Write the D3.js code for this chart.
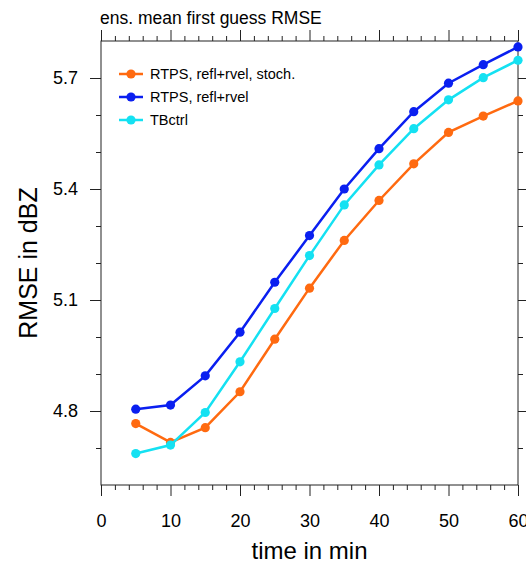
<!DOCTYPE html>
<html>
<head>
<meta charset="utf-8">
<script src="https://cdn.jsdelivr.net/npm/d3@7"></script>
<style>
  body { margin: 0; background: #fff; }
  svg text { font-family: "Liberation Sans", Arial, Helvetica, sans-serif; fill: #000; }
</style>
</head>
<body>
<div id="chart"></div>
<script>
// data
var times = [5, 10, 15, 20, 25, 30, 35, 40, 45, 50, 55, 60];
var stochRmse = [4.766, 4.715, 4.755, 4.852, 4.994, 5.132, 5.261, 5.369, 5.468, 5.553, 5.597, 5.638];
var rtpsRmse  = [4.805, 4.816, 4.895, 5.013, 5.148, 5.274, 5.400, 5.509, 5.609, 5.686, 5.736, 5.784];
var ctrlRmse  = [4.685, 4.708, 4.796, 4.933, 5.077, 5.220, 5.357, 5.465, 5.563, 5.641, 5.701, 5.748];
var seriesNames = ["RTPS, refl+rvel, stoch.", "RTPS, refl+rvel", "TBctrl"];
var xTickLabels = [0, 10, 20, 30, 40, 50, 60];
var yTickLabels = [4.8, 5.1, 5.4, 5.7];

var colors = ["#ff6a10", "#0a1ff0", "#14e1f2"];
var series = [stochRmse, rtpsRmse, ctrlRmse];

var W = 526, H = 566;
var margin = { top: 41, right: 8, bottom: 81, left: 101 };
var width = 518 - margin.left,
    height = 485 - margin.top;

var svg = d3.select("#chart")
    .append("svg")
    .attr("width", W)
    .attr("height", H);

var g = svg.append("g")
    .attr("transform", "translate(" + margin.left + "," + margin.top + ")");

var x = d3.scaleLinear().domain([0, 60]).range([0, width]);
var y = d3.scaleLinear().domain([4.6, 5.8]).range([height, 0]);

var xMinor = d3.range(0, 61, 2).filter(d => d % 10 !== 0);
var yMinor = d3.range(4.7, 5.8, 0.1).filter(d => yTickLabels.every(t => Math.abs(t - d) > 1e-6));

function styleAxis(sel) {
    sel.select(".domain").remove();
    sel.selectAll("line").attr("stroke", "#222").attr("stroke-width", 1);
    sel.selectAll("text").attr("font-size", "18px").attr("fill", "#000");
}

// major ticks with labels
g.append("g")
    .attr("transform", "translate(0," + height + ")")
    .call(d3.axisBottom(x).tickValues(xTickLabels).tickSize(11).tickPadding(18).tickFormat(d3.format("d")))
    .call(styleAxis);
g.append("g")
    .call(d3.axisLeft(y).tickValues(yTickLabels).tickSize(11).tickPadding(12).tickFormat(d3.format(".1f")))
    .call(styleAxis);
g.append("g")
    .call(d3.axisTop(x).tickValues(xTickLabels).tickSize(11).tickFormat(""))
    .call(styleAxis);
g.append("g")
    .attr("transform", "translate(" + width + ",0)")
    .call(d3.axisRight(y).tickValues(yTickLabels).tickSize(11).tickFormat(""))
    .call(styleAxis);

// minor ticks
g.append("g")
    .attr("transform", "translate(0," + height + ")")
    .call(d3.axisBottom(x).tickValues(xMinor).tickSize(5).tickFormat(""))
    .call(styleAxis);
g.append("g")
    .call(d3.axisTop(x).tickValues(xMinor).tickSize(5).tickFormat(""))
    .call(styleAxis);
g.append("g")
    .call(d3.axisLeft(y).tickValues(yMinor).tickSize(5).tickFormat(""))
    .call(styleAxis);
g.append("g")
    .attr("transform", "translate(" + width + ",0)")
    .call(d3.axisRight(y).tickValues(yMinor).tickSize(5).tickFormat(""))
    .call(styleAxis);

// frame
g.append("rect")
    .attr("width", width)
    .attr("height", height)
    .attr("fill", "none")
    .attr("stroke", "#222")
    .attr("stroke-width", 1);

// lines + markers
var line = d3.line()
    .x((d, i) => x(times[i]))
    .y(d => y(d));

series.forEach(function(vals, k) {
    g.append("path")
        .datum(vals)
        .attr("d", line)
        .attr("fill", "none")
        .attr("stroke", colors[k])
        .attr("stroke-width", 2.5);

    g.selectAll(null)
        .data(vals)
        .enter()
        .append("circle")
        .attr("cx", (d, i) => x(times[i]))
        .attr("cy", d => y(d))
        .attr("r", 4.6)
        .attr("fill", colors[k]);
});

// legend
var legend = svg.append("g").attr("transform", "translate(119,74)");
seriesNames.forEach(function(name, k) {
    var row = legend.append("g").attr("transform", "translate(0," + (k * 23) + ")");
    row.append("line")
        .attr("x1", 0).attr("x2", 24)
        .attr("stroke", colors[k])
        .attr("stroke-width", 2.5);
    row.append("circle")
        .attr("cx", 12)
        .attr("r", 4.6)
        .attr("fill", colors[k]);
    row.append("text")
        .attr("x", 31)
        .attr("dy", "0.36em")
        .attr("font-size", "14.5px")
        .text(name);
});

// titles
svg.append("text")
    .attr("x", 100)
    .attr("y", 24)
    .attr("font-size", "17.5px")
    .text("ens. mean first guess RMSE");

svg.append("text")
    .attr("transform", "translate(37," + (margin.top + height / 2) + ") rotate(-90)")
    .attr("text-anchor", "middle")
    .attr("font-size", "25px")
    .text("RMSE in dBZ");

svg.append("text")
    .attr("x", margin.left + width / 2)
    .attr("y", 559)
    .attr("text-anchor", "middle")
    .attr("font-size", "24px")
    .text("time in min");
</script>
</body>
</html>
